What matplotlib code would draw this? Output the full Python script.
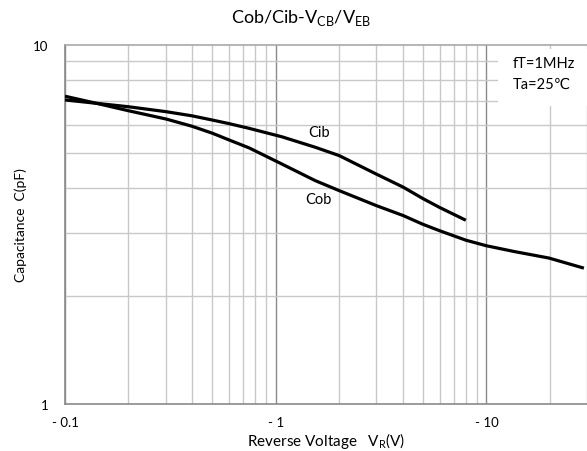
import matplotlib.pyplot as plt
from matplotlib.patches import Rectangle
from matplotlib.ticker import FixedLocator, NullFormatter

# curves (V, pF)
cib_v = [0.1, 0.141, 0.2, 0.302, 0.4, 0.5, 0.6, 0.747, 1.07, 1.54, 2.0, 3.0, 4.02, 4.97, 5.98, 7.98]
cib_c = [7.03, 6.88, 6.73, 6.52, 6.35, 6.18, 6.04, 5.86, 5.55, 5.19, 4.92, 4.37, 4.02, 3.74, 3.53, 3.25]

cob_v = [0.1, 0.141, 0.2, 0.302, 0.4, 0.5, 0.6, 0.747, 1.07, 1.54, 2.0, 3.0, 4.02, 4.97, 5.98,
         7.98, 9.97, 13.5, 19.8, 29.0]
cob_c = [7.2, 6.88, 6.56, 6.22, 5.94, 5.68, 5.44, 5.17, 4.66, 4.19, 3.93, 3.57, 3.35, 3.17, 3.04,
         2.86, 2.76, 2.66, 2.55, 2.39]

x_ticks = [0.1, 1, 10]
x_ticklabels = ['- 0.1', '- 1', '- 10']
y_ticks = [1, 10]
y_ticklabels = ['1', '10']

plt.rcParams['font.family'] = ['Lato', 'DejaVu Sans']
plt.rcParams['mathtext.fontset'] = 'custom'
plt.rcParams['mathtext.rm'] = 'Lato'

fig = plt.figure(figsize=(5.87, 4.52), dpi=100)
fig.patch.set_facecolor('white')
ax = fig.add_axes([65/587, 47/452, 522/587, 359/452])

ax.set_xscale('log')
ax.set_yscale('log')
ax.set_xlim(0.1, 30)
ax.set_ylim(1, 10)

# grid: light minors, darker decades on x
ax.xaxis.set_minor_locator(FixedLocator([m*d for d in [0.1, 1, 10] for m in range(2, 10)]))
ax.yaxis.set_minor_locator(FixedLocator(range(2, 10)))
ax.xaxis.set_minor_formatter(NullFormatter())
ax.yaxis.set_minor_formatter(NullFormatter())
ax.grid(which='minor', axis='both', color='#c8c8c8', lw=1.0)
ax.grid(which='major', axis='x', color='#8a8a8a', lw=1.0)

ax.set_xticks(x_ticks)
ax.set_xticklabels(x_ticklabels)
ax.set_yticks(y_ticks)
ax.set_yticklabels(y_ticklabels)
ax.tick_params(which='both', length=0)
ax.tick_params(axis='x', pad=9, labelsize=9.5)
ax.tick_params(axis='y', pad=12, labelsize=9.5)

for s in ['left', 'bottom']:
    ax.spines[s].set_color('#8a8a8a')
    ax.spines[s].set_linewidth(1.2)
ax.spines['top'].set_color('#a8a8a8')
ax.spines['top'].set_linewidth(1.2)
ax.spines['right'].set_visible(False)

ax.plot(cib_v, cib_c, color='black', lw=2.3, solid_capstyle='butt', solid_joinstyle='round', zorder=3)
ax.plot(cob_v, cob_c, color='black', lw=2.3, solid_capstyle='butt', solid_joinstyle='round', zorder=3)

ax.text(1.61, 5.72, 'Cib', fontsize=10.5, ha='center', va='center', zorder=4)
ax.text(1.59, 3.72, 'Cob', fontsize=10.5, ha='center', va='center', zorder=4)

# white box behind the condition text
ax.add_patch(Rectangle((0.8295, 0.83), 0.2, 0.16, transform=ax.transAxes,
                       facecolor='white', edgecolor='none', zorder=2.5, clip_on=False))
ax.text(0.857, 0.95, 'fT=1MHz', transform=ax.transAxes, fontsize=10.5, va='center', zorder=4)
ax.text(0.857, 0.892, 'Ta=25℃', transform=ax.transAxes, fontsize=10.5, va='center', zorder=4)

ax.set_xlabel('Reverse Voltage   V$_{\\mathrm{R}}$(V)', fontsize=11)
ax.xaxis.set_label_coords(0.5, -0.072)
ax.set_ylabel('Capacitance  C(pF)', fontsize=10, family=['Liberation Sans Narrow', 'Lato'])
ax.yaxis.set_label_coords(-0.085, 0.5)
ax.yaxis.label.set_va('center')

fig.text(301/587, 1 - 18/452, 'Cob/Cib-V$_{\\mathrm{CB}}$/V$_{\\mathrm{EB}}$', fontsize=13,
         ha='center', va='center')

plt.savefig('out.png', dpi=100)
